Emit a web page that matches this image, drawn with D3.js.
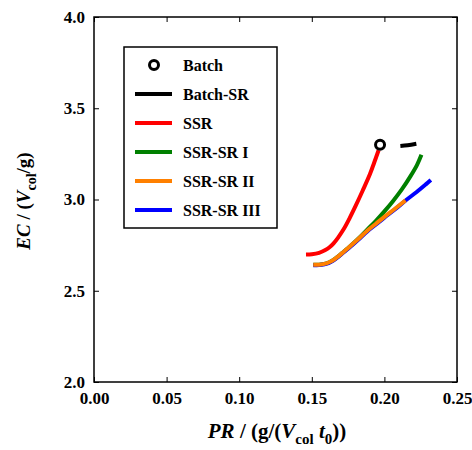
<!DOCTYPE html>
<html>
<head>
<meta charset="utf-8">
<script src="https://cdn.jsdelivr.net/npm/d3@7"></script>
<style>
  html, body { margin: 0; padding: 0; background: #fff; }
  svg { display: block; }
  text { font-family: "Liberation Serif", "Times New Roman", serif; font-weight: bold; fill: #000; }
</style>
</head>
<body>
<svg id="chart" width="472" height="450"></svg>
<script>
// Productivity (PR) vs eluent consumption (EC) for each operating mode
const batchX = [0.197];
const batchY = [3.30];

const batchSRX = [0.211, 0.216, 0.222];
const batchSRY = [3.293, 3.297, 3.305];

const ssrX = [0.146, 0.150, 0.155, 0.159, 0.162, 0.165, 0.168, 0.172, 0.176, 0.180, 0.185, 0.190, 0.193, 0.196];
const ssrY = [2.698, 2.700, 2.708, 2.722, 2.737, 2.760, 2.790, 2.838, 2.897, 2.962, 3.048, 3.138, 3.203, 3.270];

const ssrSR1X = [0.151, 0.155, 0.160, 0.164, 0.168, 0.172, 0.176, 0.182, 0.188, 0.194, 0.200, 0.206, 0.212, 0.218, 0.2225, 0.2255];
const ssrSR1Y = [2.642, 2.643, 2.650, 2.664, 2.687, 2.714, 2.741, 2.785, 2.834, 2.882, 2.935, 2.992, 3.055, 3.128, 3.190, 3.245];

const ssrSR2X = [0.151, 0.155, 0.160, 0.164, 0.168, 0.172, 0.176, 0.182, 0.188, 0.194, 0.200, 0.207, 0.2145];
const ssrSR2Y = [2.642, 2.643, 2.650, 2.664, 2.687, 2.714, 2.741, 2.783, 2.828, 2.866, 2.905, 2.948, 2.995];

const ssrSR3X = [0.151, 0.155, 0.160, 0.164, 0.168, 0.172, 0.176, 0.182, 0.188, 0.194, 0.200, 0.207, 0.215, 0.222, 0.2285, 0.232];
const ssrSR3Y = [2.640, 2.641, 2.647, 2.661, 2.684, 2.711, 2.737, 2.779, 2.824, 2.862, 2.901, 2.944, 2.997, 3.040, 3.083, 3.107];

const xTicks = [0.00, 0.05, 0.10, 0.15, 0.20, 0.25];
const yTicks = [2.0, 2.5, 3.0, 3.5, 4.0];

const legendNames = ["Batch", "Batch-SR", "SSR", "SSR-SR I", "SSR-SR II", "SSR-SR III"];
const colors = { "Batch": "#000", "Batch-SR": "#000", "SSR": "#ff0000", "SSR-SR I": "#008000", "SSR-SR II": "#ff8000", "SSR-SR III": "#0000ff" };

const svg = d3.select("#chart");
const margin = { left: 94, right: 15, top: 17, bottom: 68 };
const W = 472, H = 450;
const x = d3.scaleLinear().domain([0, 0.25]).range([margin.left, W - margin.right]);
const y = d3.scaleLinear().domain([2.0, 4.0]).range([H - margin.bottom, margin.top]);

const zip = (xs, ys) => xs.map((v, i) => [v, ys[i]]);
const line = d3.line().x(d => x(d[0])).y(d => y(d[1])).curve(d3.curveCatmullRom.alpha(0.5));

// Frame
svg.append("rect")
  .attr("x", x(0)).attr("y", y(4))
  .attr("width", x(0.25) - x(0)).attr("height", y(2) - y(4))
  .attr("fill", "none").attr("stroke", "#000").attr("stroke-width", 1.5);

// Axes with inward ticks on all four sides
const fmtX = d3.format(".2f"), fmtY = d3.format(".1f");
const bottom = svg.append("g").attr("transform", `translate(0,${y(2)})`)
  .call(d3.axisBottom(x).tickValues(xTicks).tickFormat(fmtX).tickSizeInner(-5).tickSizeOuter(0).tickPadding(10));
const left = svg.append("g").attr("transform", `translate(${x(0)},0)`)
  .call(d3.axisLeft(y).tickValues(yTicks).tickFormat(fmtY).tickSizeInner(-5).tickSizeOuter(0).tickPadding(9));
svg.append("g").attr("transform", `translate(0,${y(4)})`)
  .call(d3.axisTop(x).tickValues(xTicks).tickFormat("").tickSizeInner(-5).tickSizeOuter(0));
svg.append("g").attr("transform", `translate(${x(0.25)},0)`)
  .call(d3.axisRight(y).tickValues(yTicks).tickFormat("").tickSizeInner(-5).tickSizeOuter(0));

svg.selectAll(".domain").remove();
svg.selectAll(".tick line").attr("stroke", "#000").attr("stroke-width", 1);
svg.selectAll(".tick text").style("font-size", "17px").attr("font-family", null);

// Curves
const series = [
  ["SSR", zip(ssrX, ssrY)],
  ["SSR-SR I", zip(ssrSR1X, ssrSR1Y)],
  ["SSR-SR III", zip(ssrSR3X, ssrSR3Y)],
  ["SSR-SR II", zip(ssrSR2X, ssrSR2Y)],
  ["Batch-SR", zip(batchSRX, batchSRY)]
];
svg.append("g").selectAll("path").data(series).join("path")
  .attr("d", d => line(d[1]))
  .attr("fill", "none")
  .attr("stroke", d => colors[d[0]])
  .attr("stroke-width", 4)
  .attr("stroke-linecap", "butt");

svg.append("g").selectAll("circle").data(zip(batchX, batchY)).join("circle")
  .attr("cx", d => x(d[0])).attr("cy", d => y(d[1])).attr("r", 4.5)
  .attr("fill", "#fff").attr("stroke", "#000").attr("stroke-width", 3);

// Legend
const lg = svg.append("g");
lg.append("rect").attr("x", 124).attr("y", 47).attr("width", 153).attr("height", 181)
  .attr("fill", "#fff").attr("stroke", "#000").attr("stroke-width", 1.5);
const rowY = i => 65 + i * 29;
legendNames.forEach((name, i) => {
  if (name === "Batch") {
    lg.append("circle").attr("cx", 154).attr("cy", rowY(i)).attr("r", 4.5)
      .attr("fill", "#fff").attr("stroke", "#000").attr("stroke-width", 3);
  } else {
    lg.append("line").attr("x1", 135).attr("x2", 172).attr("y1", rowY(i)).attr("y2", rowY(i))
      .attr("stroke", colors[name]).attr("stroke-width", 4);
  }
  lg.append("text").attr("x", 183).attr("y", rowY(i)).attr("dy", "0.35em")
    .style("font-size", "16px").text(name);
});

// Axis titles
const xt = svg.append("text").attr("x", 277).attr("y", 438).attr("text-anchor", "middle").style("font-size", "21px");
xt.append("tspan").attr("font-style", "italic").text("PR");
xt.append("tspan").text(" / (g/(");
xt.append("tspan").attr("font-style", "italic").text("V");
xt.append("tspan").attr("dy", 6).style("font-size", "15px").text("col");
xt.append("tspan").attr("dy", -6).text(" ");
xt.append("tspan").attr("font-style", "italic").text("t");
xt.append("tspan").attr("dy", 6).style("font-size", "15px").text("0");
xt.append("tspan").attr("dy", -6).text("))");

const yt = svg.append("text").attr("transform", "translate(30,201) rotate(-90)").attr("text-anchor", "middle").style("font-size", "19px");
yt.append("tspan").attr("font-style", "italic").text("EC");
yt.append("tspan").text(" / (");
yt.append("tspan").attr("font-style", "italic").text("V");
yt.append("tspan").attr("dy", 6).style("font-size", "14px").text("col");
yt.append("tspan").attr("dy", -6).text("/g)");
</script>
</body>
</html>
